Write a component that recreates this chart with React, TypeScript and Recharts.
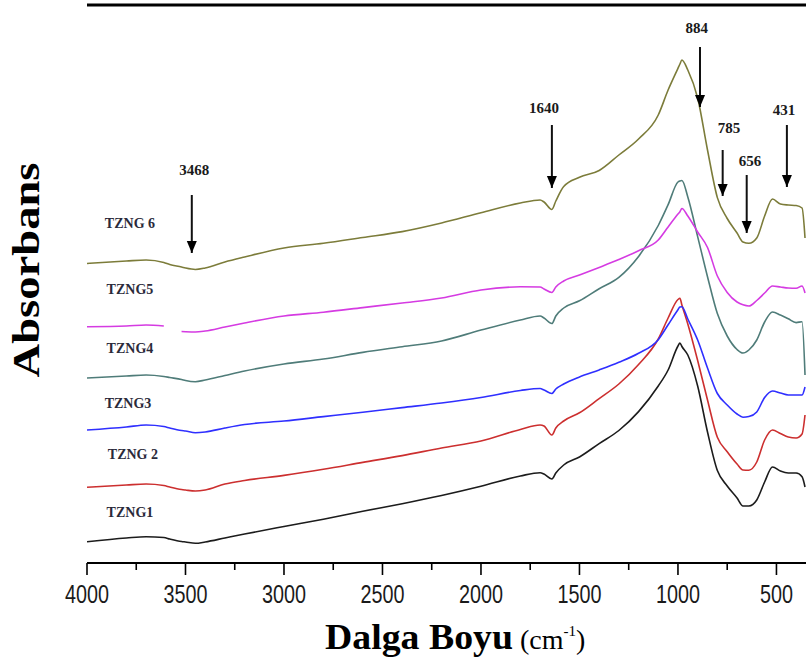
import React from 'react';
import { LineChart, Line, XAxis, YAxis, ReferenceLine, ReferenceDot } from 'recharts';

// Wavenumber grid (cm-1)
const wavenumbers = [
  4000, 3800, 3700, 3610, 3580, 3520, 3500, 3450, 3400, 3300,
  3200, 3000, 2800, 2600, 2400, 2200, 2000, 1800, 1700, 1680,
  1640, 1620, 1580, 1500, 1400, 1300, 1200, 1100, 1050, 1000,
  990, 980, 950, 900, 850, 800, 750, 700, 670, 640,
  600, 560, 520, 480, 440, 400, 370, 355,
];

// Absorbance (arbitrary units, stacked spectra)
const tzng6 = [
  2.995, 3.02, 3.03, 3.005, 2.985, 2.96, 2.95, 2.935, 2.95, 3.01,
  3.06, 3.15, 3.197, 3.255, 3.314, 3.4, 3.503, 3.6, 3.63, 3.61,
  3.535, 3.62, 3.765, 3.857, 3.925, 4.08, 4.24, 4.48, 4.73, 4.947,
  4.99, 5.03, 4.93, 4.65, 4.13, 3.654, 3.445, 3.3, 3.21, 3.197,
  3.25, 3.47, 3.64, 3.59, 3.58, 3.575, 3.55, 3.25,
];
const tzng5 = [
  2.363, 2.37, 2.38, 2.37, null, 2.315, 2.313, 2.31, 2.32, 2.36,
  2.4, 2.47, 2.508, 2.554, 2.6, 2.65, 2.73, 2.762, 2.76, 2.74,
  2.705, 2.76, 2.82, 2.88, 2.956, 3.035, 3.123, 3.23, 3.36, 3.49,
  3.513, 3.545, 3.47, 3.31, 3.155, 2.87, 2.706, 2.61, 2.582, 2.57,
  2.625, 2.7, 2.77, 2.76, 2.75, 2.747, 2.77, 2.7,
];
const tzng4 = [
  1.85, 1.87, 1.88, 1.865, 1.855, 1.835, 1.825, 1.813, 1.83, 1.875,
  1.92, 1.99, 2.04, 2.106, 2.163, 2.22, 2.329, 2.43, 2.47, 2.45,
  2.395, 2.47, 2.55, 2.622, 2.743, 2.856, 3.065, 3.375, 3.583, 3.81,
  3.82, 3.825, 3.66, 3.264, 2.863, 2.494, 2.27, 2.135, 2.1, 2.13,
  2.23, 2.41, 2.51, 2.48, 2.442, 2.404, 2.413, 1.88,
];
const tzng3 = [
  1.33, 1.36, 1.38, 1.365, 1.35, 1.325, 1.32, 1.303, 1.31, 1.35,
  1.385, 1.42, 1.464, 1.508, 1.554, 1.6, 1.655, 1.725, 1.745, 1.73,
  1.695, 1.74, 1.79, 1.861, 1.931, 2.007, 2.097, 2.233, 2.382, 2.533,
  2.56, 2.563, 2.44, 2.23, 1.95, 1.695, 1.58, 1.49, 1.458, 1.465,
  1.511, 1.655, 1.72, 1.7, 1.68, 1.68, 1.68, 1.76,
];
const tzng2 = [
  0.757, 0.78, 0.79, 0.775, 0.76, 0.735, 0.73, 0.72, 0.73, 0.79,
  0.825, 0.876, 0.937, 1.006, 1.074, 1.15, 1.22, 1.335, 1.38, 1.37,
  1.28, 1.35, 1.42, 1.502, 1.644, 1.79, 1.985, 2.24, 2.45, 2.635,
  2.647, 2.58, 2.39, 2.025, 1.63, 1.257, 1.113, 0.99, 0.93, 0.928,
  1.01, 1.23, 1.33, 1.295, 1.26, 1.25, 1.29, 1.48,
];
const tzng1 = [
  0.213, 0.25, 0.263, 0.255, 0.24, 0.215, 0.21, 0.197, 0.21, 0.25,
  0.29, 0.365, 0.438, 0.518, 0.593, 0.675, 0.767, 0.87, 0.903, 0.89,
  0.84, 0.9, 0.98, 1.06, 1.194, 1.325, 1.514, 1.77, 1.93, 2.17,
  2.2, 2.165, 2.08, 1.77, 1.31, 0.925, 0.77, 0.65, 0.57, 0.57,
  0.63, 0.81, 0.96, 0.92, 0.9, 0.9, 0.863, 0.76,
];

const seriesKeys = ['tzng1', 'tzng2', 'tzng3', 'tzng4', 'tzng5', 'tzng6'];
const seriesColors = ['#1c1c1c', '#cc2f2f', '#2f2fff', '#4f7c79', '#d53be2', '#7c7c3a'];

// Sample labels (text, wavenumber, absorbance position)
const sampleLabels = ['TZNG1', 'TZNG 2', 'TZNG3', 'TZNG4', 'TZNG5', 'TZNG 6'];
const sampleLabelWn = [3782, 3767, 3792, 3782, 3782, 3782];
const sampleLabelY = [0.51, 1.09, 1.6, 2.15, 2.74, 3.4];

// Peak annotations
const peakLabels = ['3468', '1640', '884', '785', '656', '431'];
const peakLabelWn = [3455, 1680, 905, 741, 634, 462];
const peakLabelY = [3.93, 4.55, 5.35, 4.355, 4.025, 4.53];
const arrowWn = [3468, 1640, 888, 773, 651, 447];
const arrowTop = [3.68, 4.38, 5.16, 4.13, 3.88, 4.38];
const arrowTip = [3.1, 3.75, 4.56, 3.67, 3.3, 3.76];

const xTicks = [4000, 3750, 3500, 3250, 3000, 2750, 2500, 2250, 2000, 1750, 1500, 1250, 1000, 750, 500];
const yMax = 5.58;

const data = wavenumbers.map((wn, i) => ({
  wn,
  tzng1: tzng1[i],
  tzng2: tzng2[i],
  tzng3: tzng3[i],
  tzng4: tzng4[i],
  tzng5: tzng5[i],
  tzng6: tzng6[i],
}));

const XTick = (props: any) => {
  const { x, y, payload } = props;
  const v = payload.value as number;
  const major = v % 500 === 0;
  const s = String(v);
  return (
    <g>
      <line x1={x} y1={y} x2={x} y2={y + (major ? 12 : 7)} stroke="#000" strokeWidth={1.6} />
      {major && (
        <text
          x={x}
          y={y + 40}
          textAnchor="middle"
          fontFamily="'Liberation Sans', Arial, sans-serif"
          fontSize={26}
          fill="#1a1a1a"
          textLength={11 * s.length}
          lengthAdjust="spacingAndGlyphs"
        >
          {s}
        </text>
      )}
    </g>
  );
};

const AxisTitles = () => (
  <g>
    <text x={325} y={649} fontFamily="'Liberation Serif', 'Times New Roman', serif" fill="#000">
      <tspan fontSize={36} fontWeight="bold" textLength={188} lengthAdjust="spacingAndGlyphs">Dalga Boyu</tspan>
      <tspan fontSize={28} dx={7}>(cm</tspan>
      <tspan fontSize={15} dy={-13}>-1</tspan>
      <tspan fontSize={28} dy={13}>)</tspan>
    </text>
    <text
      transform="translate(39,270) rotate(-90)"
      textAnchor="middle"
      fontFamily="'Liberation Serif', 'Times New Roman', serif"
      fontWeight="bold"
      fontSize={38}
      fill="#000"
      textLength={215}
      lengthAdjust="spacingAndGlyphs"
    >
      Absorbans
    </text>
  </g>
);

export default function App() {
  return (
    <div style={{ position: 'absolute', left: 0, top: 0, background: '#fff' }}>
      <LineChart width={808} height={664} data={data} margin={{ top: 5, right: 2, left: 87, bottom: 71 }}>
        <XAxis
          dataKey="wn"
          type="number"
          domain={[350, 4000]}
          reversed
          allowDataOverflow
          ticks={xTicks}
          interval={0}
          height={30}
          tickSize={0}
          tickMargin={0}
          tickLine={false}
          tick={<XTick />}
          axisLine={{ stroke: '#000', strokeWidth: 2 }}
          label={<AxisTitles />}
        />
        <YAxis
          type="number"
          domain={[0, yMax]}
          allowDataOverflow
          width={0}
          tick={false}
          tickLine={false}
          axisLine={{ stroke: '#000', strokeWidth: 2 }}
        />
        <ReferenceLine y={yMax} stroke="#000" strokeWidth={3} />
        {seriesKeys.map((k, i) => (
          <Line
            key={k}
            dataKey={k}
            type="monotone"
            stroke={seriesColors[i]}
            strokeWidth={1.6}
            dot={false}
            activeDot={false}
            isAnimationActive={false}
            connectNulls={false}
          />
        ))}
        {sampleLabels.map((t, i) => (
          <ReferenceDot
            key={'s' + i}
            x={sampleLabelWn[i]}
            y={sampleLabelY[i]}
            r={0}
            shape={(p: any) => (
              <text
                x={p.cx}
                y={p.cy}
                textAnchor="middle"
                dominantBaseline="central"
                fontFamily="'Liberation Serif', 'Times New Roman', serif"
                fontWeight="bold"
                fontSize={14}
                fill="#2a2a3a"
              >
                {t}
              </text>
            )}
          />
        ))}
        {arrowWn.map((wn, i) => (
          <ReferenceLine
            key={'a' + i}
            segment={[{ x: wn, y: arrowTop[i] }, { x: wn, y: arrowTip[i] }]}
            stroke="#111"
            strokeWidth={2}
          />
        ))}
        {arrowWn.map((wn, i) => (
          <ReferenceDot
            key={'h' + i}
            x={wn}
            y={arrowTip[i]}
            r={0}
            shape={(p: any) => (
              <path d={`M${p.cx - 5},${p.cy - 12} L${p.cx + 5},${p.cy - 12} L${p.cx},${p.cy} Z`} fill="#000" />
            )}
          />
        ))}
        {peakLabels.map((t, i) => (
          <ReferenceDot
            key={'p' + i}
            x={peakLabelWn[i]}
            y={peakLabelY[i]}
            r={0}
            shape={(p: any) => (
              <text
                x={p.cx}
                y={p.cy}
                textAnchor="middle"
                dominantBaseline="central"
                fontFamily="'Liberation Serif', 'Times New Roman', serif"
                fontWeight="bold"
                fontSize={15}
                fill="#1a1a1a"
              >
                {t}
              </text>
            )}
          />
        ))}
      </LineChart>
    </div>
  );
}
